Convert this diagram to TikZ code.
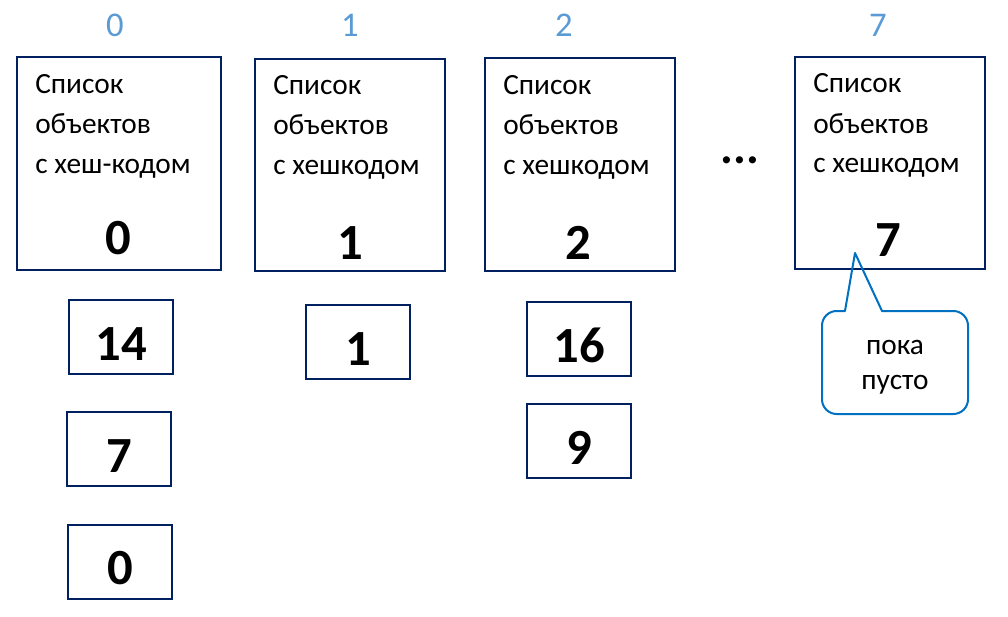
\documentclass[tikz,border=0pt]{standalone}
\usepackage{fontspec}
\setmainfont{Carlito}
\definecolor{navy}{HTML}{002060}
\definecolor{headblue}{HTML}{5B9BD5}
\definecolor{callblue}{HTML}{0070C0}

\tikzset{
	bucket/.style={draw=navy, line width=1.5pt, inner sep=0pt, minimum height=159pt},
	entry/.style={draw=navy, line width=1.5pt, inner sep=0pt, minimum width=78pt, minimum height=55.5pt, text height=34.5pt, text depth=0pt, font=\fontsize{38}{38}\selectfont\bfseries},
	txt/.style={inner sep=0pt, anchor=base west, font=\fontsize{22}{26}\selectfont},
	code/.style={inner sep=0pt, font=\fontsize{38}{38}\selectfont\bfseries},
	head/.style={inner sep=0pt, text=headblue, font=\fontsize{26}{26}\selectfont},
}

\begin{document}
\begin{tikzpicture}[x=0.75pt, y=-0.75pt]
			%%%%% START %%%%%
			\useasboundingbox (0, 0) rectangle (1008, 617);
			
			% bucket 0
			\node[head] (h0) at (115, 25) {0};
			\node[bucket, minimum width=153pt] (b0) at (119, 163.5) {};
			\node[txt] (b0a) at ([shift={(19, 37)}]b0.north west) {Список};
			\node[txt] (b0b) at ([shift={(19, 77)}]b0.north west) {объектов};
			\node[txt] (b0c) at ([shift={(19, 117)}]b0.north west) {с хеш-кодом};
			\node[code] (n0) at (118, 238) {0};
			\node[entry] (e14) at (121, 337) {14};
			\node[entry] (e7) at (119, 449) {7};
			\node[entry] (e0) at (120, 561.5) {0};
			
			% bucket 1
			\node[head] (h1) at (350, 25) {1};
			\node[bucket, minimum width=142.5pt] (b1) at (350, 165) {};
			\node[txt] (b1a) at ([shift={(19, 37)}]b1.north west) {Список};
			\node[txt] (b1b) at ([shift={(19, 77)}]b1.north west) {объектов};
			\node[txt] (b1c) at ([shift={(19, 117)}]b1.north west) {с хешкодом};
			\node[code] (n1) at (350, 243) {1};
			\node[entry] (e1) at (358, 342) {1};
			
			% bucket 2
			\node[head] (h2) at (564, 25) {2};
			\node[bucket, minimum width=142.5pt] (b2) at (580, 164.5) {};
			\node[txt] (b2a) at ([shift={(19, 37)}]b2.north west) {Список};
			\node[txt] (b2b) at ([shift={(19, 77)}]b2.north west) {объектов};
			\node[txt] (b2c) at ([shift={(19, 117)}]b2.north west) {с хешкодом};
			\node[code] (n2) at (578, 243) {2};
			\node[entry] (e16) at (579, 339) {16};
			\node[entry] (e9) at (579, 441) {9};
			
			\node[inner sep=0pt, anchor=base, font=\fontsize{36}{36}\selectfont\bfseries] (dots) at (740, 164) {...};
			
			% bucket 7
			\node[head] (h7) at (878, 25) {7};
			\node[bucket, minimum width=142.5pt] (b7) at (890, 163) {};
			\node[txt] (b7a) at ([shift={(19, 37)}]b7.north west) {Список};
			\node[txt] (b7b) at ([shift={(19, 77)}]b7.north west) {объектов};
			\node[txt] (b7c) at ([shift={(19, 117)}]b7.north west) {с хешкодом};
			\node[code] (n7) at (888, 240) {7};
			
			% callout
			\coordinate (tip) at (855, 253);
			\draw[callblue, line width=1.5pt, line join=round] (845, 311) -- (tip) -- (882, 311)
				[rounded corners=11pt] -- (968, 311) -- (968, 414) -- (822, 414) -- (822, 311) [sharp corners] -- cycle;
			\node[txt, anchor=base] (c1) at (895, 354) {пока};
			\node[txt, anchor=base] (c2) at (895, 389) {пусто};
			%%%%% END %%%%%
\end{tikzpicture}
\end{document}
